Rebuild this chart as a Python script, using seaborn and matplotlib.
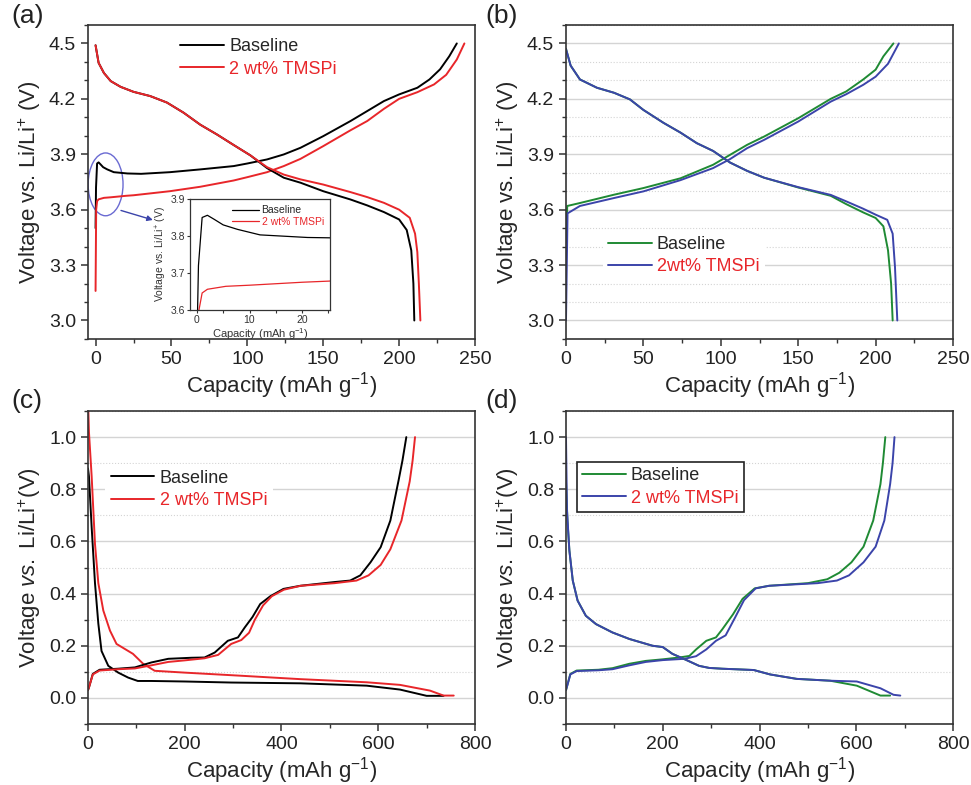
import numpy as np
import pandas as pd
import seaborn as sns
import matplotlib.pyplot as plt
from matplotlib.patches import Ellipse
from matplotlib.ticker import MultipleLocator

# ---- (a) cathode, black = Baseline, red = 2 wt% TMSPi ----
a_base_chg_x = [0, 0.3, 1, 2, 3.3, 5, 7.7, 12, 21, 30, 49, 69, 91, 100, 113, 124, 135, 150, 168, 179, 190, 200, 212, 220, 227, 233, 238]
a_base_chg_y = [3.50, 3.72, 3.85, 3.856, 3.845, 3.83, 3.818, 3.803, 3.796, 3.794, 3.803, 3.818, 3.836, 3.85, 3.872, 3.899, 3.935, 3.998, 4.08, 4.134, 4.188, 4.224, 4.26, 4.305, 4.36, 4.43, 4.50]
a_tms_chg_x = [0, 0.4, 1, 2, 5.5, 10, 15, 20, 25, 49, 69, 91, 100, 113, 124, 135, 150, 168, 179, 190, 200, 212, 223, 231, 238, 243]
a_tms_chg_y = [3.16, 3.60, 3.646, 3.656, 3.664, 3.667, 3.671, 3.675, 3.678, 3.70, 3.724, 3.758, 3.776, 3.803, 3.836, 3.875, 3.944, 4.03, 4.08, 4.146, 4.20, 4.236, 4.278, 4.33, 4.413, 4.50]
a_base_dis_x = [0, 2, 5.5, 10, 16.5, 25, 36, 47, 58, 69, 80, 91, 102, 113, 124, 135, 150, 168, 179, 190, 200, 205, 208, 209.4, 210]
a_base_dis_y = [4.49, 4.395, 4.34, 4.296, 4.265, 4.238, 4.215, 4.18, 4.125, 4.06, 4.007, 3.95, 3.894, 3.825, 3.773, 3.746, 3.70, 3.655, 3.623, 3.587, 3.547, 3.49, 3.38, 3.20, 3.00]
a_tms_dis_x = [0, 2, 5.5, 10, 16.5, 25, 36, 47, 58, 69, 80, 91, 102, 113, 124, 135, 150, 168, 179, 190, 200, 207, 210.5, 212, 213, 214]
a_tms_dis_y = [4.49, 4.395, 4.34, 4.296, 4.265, 4.238, 4.215, 4.18, 4.125, 4.06, 4.007, 3.95, 3.894, 3.83, 3.79, 3.764, 3.736, 3.695, 3.668, 3.637, 3.60, 3.556, 3.47, 3.37, 3.20, 3.00]

# ---- (b) cathode, green = Baseline, blue = 2wt% TMSPi ----
b_base_chg_x = [0, 0.8, 9, 31, 50, 74, 95, 106, 117, 128, 150, 171, 181, 192, 200, 205, 211.5]
b_base_chg_y = [3.42, 3.62, 3.636, 3.681, 3.717, 3.77, 3.843, 3.897, 3.951, 3.996, 4.095, 4.20, 4.24, 4.305, 4.358, 4.43, 4.50]
b_tms_chg_x = [0, 1, 9, 31, 50, 74, 95, 106, 117, 128, 150, 171, 181, 192, 200, 208, 215]
b_tms_chg_y = [3.00, 3.58, 3.62, 3.663, 3.699, 3.76, 3.825, 3.874, 3.933, 3.978, 4.077, 4.185, 4.225, 4.276, 4.32, 4.39, 4.50]
b_base_dis_x = [0, 3, 9, 20, 31, 41.3, 50, 63, 74, 84.5, 95, 106, 117, 128, 150, 171, 181, 192, 200, 205, 208, 210, 211]
b_base_dis_y = [4.47, 4.38, 4.305, 4.26, 4.233, 4.197, 4.14, 4.07, 4.017, 3.96, 3.918, 3.855, 3.81, 3.773, 3.72, 3.675, 3.63, 3.585, 3.555, 3.51, 3.38, 3.20, 3.00]
b_tms_dis_x = [0, 3, 9, 20, 31, 41.3, 50, 63, 74, 84.5, 95, 106, 117, 128, 150, 171, 181, 192, 200, 207.5, 211, 212.5, 214]
b_tms_dis_y = [4.47, 4.38, 4.305, 4.26, 4.233, 4.197, 4.14, 4.07, 4.017, 3.96, 3.918, 3.855, 3.81, 3.773, 3.722, 3.68, 3.645, 3.605, 3.573, 3.545, 3.47, 3.29, 3.00]

# ---- (c) anode, black = Baseline, red = 2 wt% TMSPi ----
c_base_dis_x = [0, 2, 7.6, 14.5, 21.4, 28, 42, 62.6, 83, 103, 131, 200, 296, 439, 576, 645, 700, 735]
c_base_dis_y = [0.88, 0.85, 0.655, 0.44, 0.285, 0.18, 0.123, 0.097, 0.078, 0.065, 0.065, 0.063, 0.059, 0.056, 0.047, 0.032, 0.008, 0.008]
c_tms_dis_x = [0, 2, 7.6, 14.5, 21.4, 31.7, 45.5, 59, 76, 93, 114, 138, 200, 317, 439, 576, 645, 707, 735, 756]
c_tms_dis_y = [1.15, 1.02, 0.85, 0.59, 0.44, 0.335, 0.258, 0.207, 0.188, 0.169, 0.131, 0.104, 0.097, 0.085, 0.072, 0.06, 0.05, 0.028, 0.009, 0.009]
c_base_chg_x = [0, 2, 10, 24, 62, 97, 131, 166, 214, 241, 262, 289, 310, 324, 340, 356, 377, 404, 439, 508, 542, 563, 584, 605, 625, 642, 650, 658]
c_base_chg_y = [0.03, 0.04, 0.092, 0.108, 0.112, 0.117, 0.136, 0.15, 0.154, 0.155, 0.174, 0.219, 0.232, 0.27, 0.31, 0.36, 0.39, 0.418, 0.43, 0.444, 0.45, 0.47, 0.52, 0.578, 0.68, 0.834, 0.91, 1.0]
c_tms_chg_x = [0, 2, 10, 24, 62, 97, 131, 166, 200, 241, 269, 296, 317, 333, 345, 362, 380, 405, 440, 510, 555, 580, 605, 625, 648, 665, 671, 676]
c_tms_chg_y = [0.03, 0.04, 0.09, 0.105, 0.11, 0.113, 0.125, 0.138, 0.144, 0.152, 0.165, 0.207, 0.222, 0.25, 0.30, 0.355, 0.39, 0.415, 0.43, 0.44, 0.45, 0.47, 0.51, 0.57, 0.68, 0.83, 0.91, 1.0]

# ---- (d) anode, green = Baseline, blue = 2 wt% TMSPi ----
d_base_dis_x = [0, 3, 7, 14, 24, 41, 62, 96, 131, 179, 200, 220, 248, 275, 296, 323, 388, 422, 477, 546, 601, 650, 670]
d_base_dis_y = [0.83, 0.68, 0.565, 0.45, 0.373, 0.315, 0.283, 0.251, 0.226, 0.20, 0.195, 0.169, 0.146, 0.123, 0.115, 0.112, 0.107, 0.09, 0.073, 0.066, 0.047, 0.009, 0.009]
d_tms_dis_x = [0, 2, 7, 14, 24, 41, 62, 96, 131, 179, 200, 220, 248, 275, 296, 323, 388, 422, 477, 546, 601, 650, 677, 691]
d_tms_dis_y = [1.0, 0.72, 0.565, 0.45, 0.373, 0.315, 0.283, 0.251, 0.226, 0.20, 0.195, 0.169, 0.146, 0.123, 0.115, 0.112, 0.107, 0.09, 0.073, 0.066, 0.063, 0.037, 0.012, 0.009]
d_base_chg_x = [0, 9, 22, 67, 96, 131, 165, 200, 234, 255, 269, 290, 310, 323, 345, 365, 390, 420, 500, 540, 565, 590, 615, 635, 650, 655, 660]
d_base_chg_y = [0.03, 0.092, 0.105, 0.108, 0.114, 0.131, 0.142, 0.148, 0.155, 0.161, 0.186, 0.219, 0.232, 0.263, 0.32, 0.38, 0.42, 0.43, 0.44, 0.455, 0.48, 0.52, 0.58, 0.68, 0.82, 0.9, 1.0]
d_tms_chg_x = [0, 9, 22, 67, 96, 131, 165, 200, 245, 269, 290, 310, 330, 350, 368, 392, 420, 520, 560, 585, 615, 640, 658, 670, 675, 679]
d_tms_chg_y = [0.03, 0.09, 0.103, 0.106, 0.11, 0.125, 0.138, 0.145, 0.15, 0.16, 0.186, 0.219, 0.24, 0.31, 0.375, 0.42, 0.43, 0.44, 0.45, 0.47, 0.52, 0.58, 0.68, 0.82, 0.9, 1.0]

RED = '#e8262a'
GREEN = '#1f8a34'
BLUE = '#3b44aa'
OVAL = '#6a6ad2'

sns.set_style('ticks')
plt.rcParams['font.family'] = ['Liberation Sans', 'DejaVu Sans']
plt.rcParams['mathtext.fontset'] = 'custom'
plt.rcParams['mathtext.rm'] = 'Liberation Sans'
plt.rcParams['mathtext.it'] = 'Liberation Sans:italic'
plt.rcParams['axes.edgecolor'] = '#333333'
plt.rcParams['axes.linewidth'] = 1.2

fig = plt.figure(figsize=(9.71, 7.85), dpi=100)
ax_a = fig.add_axes([0.0906, 0.5682, 0.3986, 0.4])
ax_b = fig.add_axes([0.5829, 0.5682, 0.3986, 0.4])
ax_c = fig.add_axes([0.0906, 0.0777, 0.3986, 0.3987])
ax_d = fig.add_axes([0.5829, 0.0777, 0.3986, 0.3987])


def curve(ax, x, y, color, label='_nolegend_', lw=1.4):
    sns.lineplot(x=x, y=y, ax=ax, color=color, lw=lw, sort=False,
                 estimator=None, label=label, legend=False)


def style(ax, xlim, ylim, xmaj, xmin, ymaj, ymin, ylabel, grid):
    ax.set_xlim(*xlim)
    ax.set_ylim(*ylim)
    ax.xaxis.set_major_locator(MultipleLocator(xmaj))
    ax.xaxis.set_minor_locator(MultipleLocator(xmin))
    ax.yaxis.set_major_locator(MultipleLocator(ymaj))
    ax.yaxis.set_minor_locator(MultipleLocator(ymin))
    ax.tick_params(which='major', direction='out', length=5, width=1.1,
                   labelsize=14, colors='#333333', labelcolor='#222222')
    ax.tick_params(which='minor', direction='out', length=3, width=1.0, colors='#333333')
    ax.set_xlabel('Capacity (mAh g$^{-1}$)', fontsize=16, labelpad=2)
    ax.set_ylabel(ylabel, fontsize=16, labelpad=4)
    if grid:
        ax.grid(True, which='major', axis='y', color='#d4d4d4', lw=1.0)
        ax.grid(True, which='minor', axis='y', color='#d4d4d4', lw=0.8, ls=':')
        ax.set_axisbelow(True)


def legend(ax, x, y, frame=False, spacing=0.3):
    leg = ax.legend(loc='upper left', bbox_to_anchor=(x, y), fontsize=13,
                    handlelength=2.4, handletextpad=0.3, labelspacing=spacing,
                    borderpad=0.3, frameon=True, fancybox=False, borderaxespad=0)
    frm = leg.get_frame()
    frm.set_facecolor('white')
    frm.set_alpha(1)
    if frame:
        frm.set_edgecolor('#222222')
        frm.set_linewidth(1.2)
    else:
        frm.set_edgecolor('none')
    leg.get_texts()[1].set_color(RED)
    return leg


ylab_ab = 'Voltage vs. Li/Li$^{+}$ (V)'
ylab_cd = 'Voltage $vs.$ Li/Li$^{+}$(V)'

# (a)
curve(ax_a, a_base_chg_x, a_base_chg_y, 'black', 'Baseline')
curve(ax_a, a_tms_chg_x, a_tms_chg_y, RED, '2 wt% TMSPi')
curve(ax_a, a_base_dis_x, a_base_dis_y, 'black')
curve(ax_a, a_tms_dis_x, a_tms_dis_y, RED)
style(ax_a, (-5, 250), (2.9, 4.6), 50, 25, 0.3, 0.1, ylab_ab, grid=False)
legend(ax_a, 0.225, 0.975)
ax_a.add_patch(Ellipse((6.6, 3.737), 23, 0.34, fill=False, edgecolor=OVAL, lw=1.0))
ax_a.annotate('', xy=(39.5, 3.54), xytext=(15, 3.60),
              arrowprops=dict(arrowstyle='-|>', color=BLUE, lw=1.0, mutation_scale=8))

# inset
ax_in = fig.add_axes([0.1957, 0.6051, 0.1442, 0.1414])
curve(ax_in, a_base_chg_x, a_base_chg_y, 'black', 'Baseline', lw=0.9)
curve(ax_in, a_tms_chg_x, a_tms_chg_y, RED, '2 wt% TMSPi', lw=0.9)
ax_in.set_xlim(-1.3, 25.3)
ax_in.set_ylim(3.6, 3.9)
ax_in.xaxis.set_major_locator(MultipleLocator(10))
ax_in.xaxis.set_minor_locator(MultipleLocator(5))
ax_in.yaxis.set_major_locator(MultipleLocator(0.1))
ax_in.tick_params(which='both', direction='out', labelsize=7.5, length=2.5, width=0.8,
                  pad=1, colors='#333333', labelcolor='#333333')
for sp in ax_in.spines.values():
    sp.set_linewidth(0.9)
ax_in.set_xlabel('Capacity (mAh g$^{-1}$)', fontsize=8, labelpad=1, color='#333333')
ax_in.set_ylabel('Voltage vs. Li/Li$^{+}$ (V)', fontsize=7.5, labelpad=1, color='#333333')
leg_in = ax_in.legend(loc='upper right', fontsize=7.5, handlelength=2.6, handletextpad=0.2,
                      labelspacing=0.15, frameon=False, borderaxespad=0.2)
leg_in.get_texts()[1].set_color(RED)

# (b)
curve(ax_b, b_base_chg_x, b_base_chg_y, GREEN, 'Baseline')
curve(ax_b, b_tms_chg_x, b_tms_chg_y, BLUE, '2wt% TMSPi')
curve(ax_b, b_base_dis_x, b_base_dis_y, GREEN)
curve(ax_b, b_tms_dis_x, b_tms_dis_y, BLUE)
style(ax_b, (0, 250), (2.9, 4.6), 50, 25, 0.3, 0.1, ylab_ab, grid=True)
legend(ax_b, 0.095, 0.345)

# (c)
curve(ax_c, c_base_dis_x, c_base_dis_y, 'black', 'Baseline')
curve(ax_c, c_tms_dis_x, c_tms_dis_y, RED, '2 wt% TMSPi')
curve(ax_c, c_base_chg_x, c_base_chg_y, 'black')
curve(ax_c, c_tms_chg_x, c_tms_chg_y, RED)
style(ax_c, (0, 800), (-0.1, 1.1), 200, 100, 0.2, 0.1, ylab_cd, grid=True)
legend(ax_c, 0.045, 0.83)

# (d)
curve(ax_d, d_base_chg_x, d_base_chg_y, GREEN, 'Baseline')
curve(ax_d, d_tms_chg_x, d_tms_chg_y, BLUE, '2 wt% TMSPi')
curve(ax_d, d_base_dis_x, d_base_dis_y, GREEN)
curve(ax_d, d_tms_dis_x, d_tms_dis_y, BLUE)
style(ax_d, (0, 800), (-0.1, 1.1), 200, 100, 0.2, 0.1, ylab_cd, grid=True)
legend(ax_d, 0.028, 0.838, frame=True)

for txt, x, y in [('(a)', 0.012, 0.995), ('(b)', 0.500, 0.995),
                  ('(c)', 0.012, 0.505), ('(d)', 0.500, 0.505)]:
    fig.text(x, y, txt, fontsize=19, va='top', ha='left', color='#222222')

fig.savefig('out.png', dpi=100)
